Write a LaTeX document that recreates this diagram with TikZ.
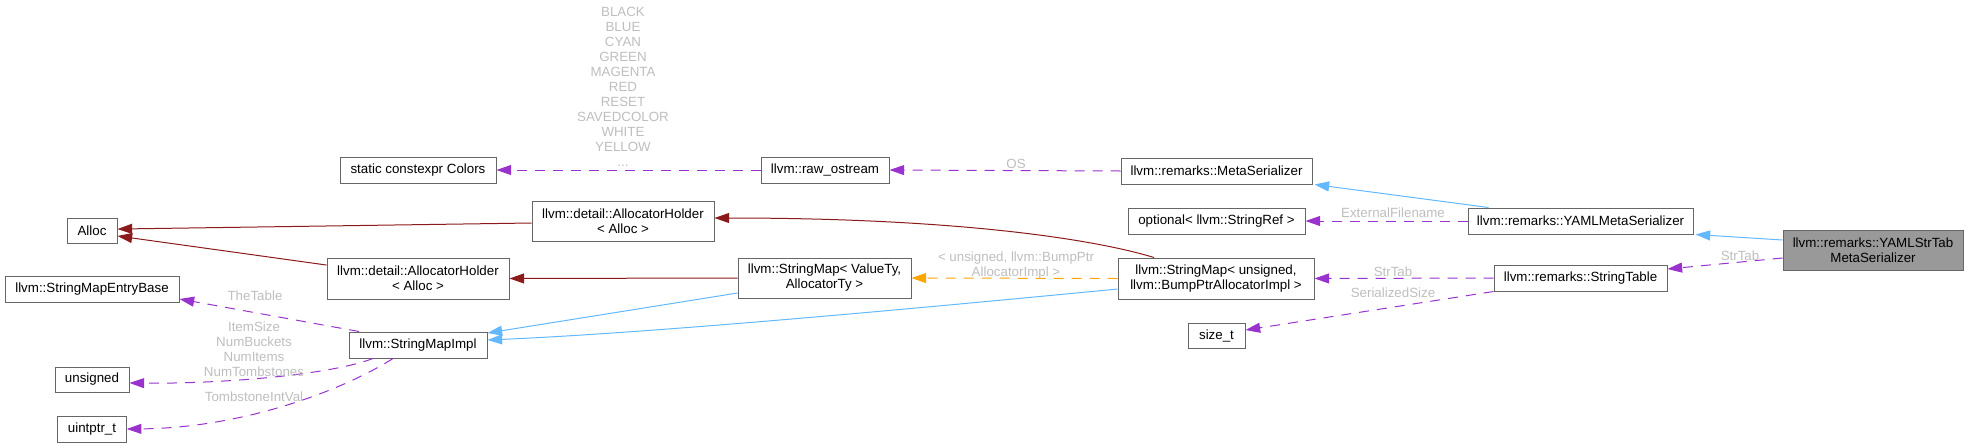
\documentclass[tikz,border=0pt]{standalone}
\usepackage{fontspec}
\setmainfont{Liberation Sans}
\usetikzlibrary{arrows.meta}
\definecolor{boxgray}{HTML}{666666}
\definecolor{greyfill}{HTML}{999999}
\definecolor{inhblue}{HTML}{63B8FF}
\definecolor{privred}{HTML}{8B1A1A}
\definecolor{usepurple}{HTML}{9A32CD}
\definecolor{tmplorange}{HTML}{FFA500}
\definecolor{lblgray}{HTML}{BEBEBE}
\begin{document}
\begin{tikzpicture}[x=0.75pt, y=-0.75pt,
  box/.style={draw=boxgray, fill=white, line width=0.75pt, inner sep=0pt, align=center, font=\fontsize{10}{11.25}\selectfont},
  cur/.style={box, fill=greyfill},
  lbl/.style={text=lblgray, inner sep=0pt, align=center, font=\fontsize{10}{11.25}\selectfont},
  tipped/.style={line width=0.75pt, -{Triangle[length=11pt,width=7.5pt]}},
  pub/.style={tipped, draw=inhblue, fill=none},
  priv/.style={tipped, draw=privred},
  usedash/.style={tipped, draw=usepurple, dash pattern=on 7.5pt off 6pt},
  tmpl/.style={tipped, draw=tmplorange, dash pattern=on 7.5pt off 6pt}]
\useasboundingbox (0,0) rectangle (1969,447);

% nodes
\node[box, minimum width=117pt, minimum height=19.5pt] (colors) at (418,170) {static constexpr Colors};
\node[box, minimum width=37.5pt, minimum height=18.75pt] (alloc) at (92,230.5) {Alloc};
\node[box, minimum width=136.5pt, minimum height=30pt] (ahup) at (623,221) {llvm::detail::AllocatorHolder\\< Alloc >};
\node[box, minimum width=136.5pt, minimum height=30.75pt] (ahlow) at (418,278.5) {llvm::detail::AllocatorHolder\\< Alloc >};
\node[box, minimum width=130.5pt, minimum height=19.5pt] (smeb) at (92,289) {llvm::StringMapEntryBase};
\node[box, minimum width=103.5pt, minimum height=19.5pt] (smimpl) at (418,345) {llvm::StringMapImpl};
\node[box, minimum width=55.5pt, minimum height=18.75pt] (unsig) at (92,379.5) {unsigned};
\node[box, minimum width=51.4pt, minimum height=19.5pt] (uintptr) at (92,429) {uintptr\_t};
\node[box, minimum width=96pt, minimum height=19.5pt] (rawos) at (825,170) {llvm::raw\_ostream};
\node[box, minimum width=129.75pt, minimum height=30pt] (smvt) at (824.5,278) {llvm::StringMap< ValueTy,\\AllocatorTy >};
\node[box, minimum width=147pt, minimum height=30.75pt] (smu) at (1216,278.5) {llvm::StringMap< unsigned,\\llvm::BumpPtrAllocatorImpl >};
\node[box, minimum width=132.75pt, minimum height=19.5pt] (optional) at (1216.5,221) {optional< llvm::StringRef >};
\node[box, minimum width=42.75pt, minimum height=18.75pt] (sizet) at (1216.5,335.5) {size\_t};
\node[box, minimum width=143.25pt, minimum height=19.5pt] (meta) at (1216.5,171) {llvm::remarks::MetaSerializer};
\node[box, minimum width=168.75pt, minimum height=19.5pt] (yaml) at (1580.5,221) {llvm::remarks::YAMLMetaSerializer};
\node[box, minimum width=129.75pt, minimum height=19.5pt] (strtab) at (1580.5,278) {llvm::remarks::StringTable};
\node[cur, minimum width=135pt, minimum height=30pt] (grey) at (1873,250) {llvm::remarks::YAMLStrTab\\MetaSerializer};

% edges
\draw[priv] ([yshift=-1.5pt]ahup.west) -- ([yshift=1.1pt]alloc.east);
\draw[priv] ([yshift=10.1pt]ahlow.west) -- ([yshift=-4.1pt]alloc.east);
\draw[priv] (smvt.west) -- (ahlow.east);
\draw[priv] ([xshift=-46.5pt]smu.north) .. controls (1090,238) and (950,218) .. ([yshift=2.25pt]ahup.east);
\draw[pub] ([yshift=-11.25pt]smvt.west) -- ([yshift=9pt]smimpl.east);
\draw[pub] ([yshift=-7.9pt]smu.west) .. controls (900,310) and (650,333) .. ([yshift=3.75pt]smimpl.east);
\draw[usedash] (rawos.west) -- (colors.east);
\draw[usedash] (meta.west) -- (rawos.east);
\draw[pub] ([xshift=-69pt]yaml.north) -- ([xshift=1.5pt]meta.south east);
\draw[pub] ([yshift=7.5pt]grey.west) -- ([xshift=1.5pt]yaml.south east);
\draw[usedash] (yaml.west) -- (optional.east);
\draw[usedash] ([yshift=-6pt]grey.west) -- ([yshift=6.75pt]strtab.east);
\draw[usedash] (strtab.west) -- (smu.east);
\draw[usedash] (strtab.south west) -- ([yshift=4.1pt]sizet.east);
\draw[tmpl] (smu.west) -- (smvt.east);
\draw[usedash] ([xshift=-44.25pt]smimpl.north) -- ([yshift=-7.5pt]smeb.east);
\draw[usedash] ([xshift=-33.75pt]smimpl.south) .. controls (330,375) and (220,384) .. ([yshift=-2.6pt]unsig.east);
\draw[usedash] ([xshift=-18.75pt]smimpl.south) .. controls (340,392) and (240,428) .. (uintptr.east);

% labels
\node[lbl] (lcolors) at (623,87) {BLACK\\BLUE\\CYAN\\GREEN\\MAGENTA\\RED\\RESET\\SAVEDCOLOR\\WHITE\\YELLOW\\...};
\node[lbl, anchor=base] (los) at (1016,168.8) {OS};
\node[lbl, anchor=base] (lext) at (1393,217.8) {ExternalFilename};
\node[lbl, anchor=base] (lstr1) at (1740,260.8) {StrTab};
\node[lbl, anchor=base] (lstr2) at (1393,276.8) {StrTab};
\node[lbl, anchor=base] (lser) at (1393,297.8) {SerializedSize};
\node[lbl] (ltmpl) at (1016,266) {< unsigned, llvm::BumpPtr\\AllocatorImpl >};
\node[lbl, anchor=base] (lthe) at (255,300.8) {TheTable};
\node[lbl] (litems) at (254,349.5) {ItemSize\\NumBuckets\\NumItems\\NumTombstones};
\node[lbl, anchor=base] (ltomb) at (254,401.8) {TombstoneIntVal};
\end{tikzpicture}
\end{document}
